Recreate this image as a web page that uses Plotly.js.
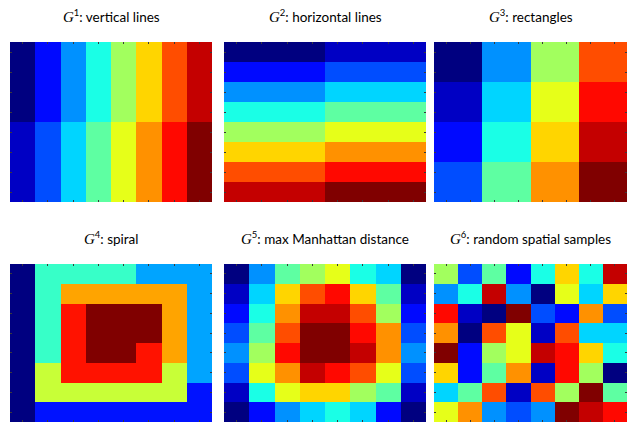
<!DOCTYPE html>
<html>
<head>
<meta charset="utf-8">
<script src="https://cdn.plot.ly/plotly-3.0.1.min.js"></script>
<style>
  html, body { margin: 0; padding: 0; background: #ffffff; }
  #chart { width: 627px; height: 422px; }
</style>
</head>
<body>
<div id="chart"></div>
<script>
// Panel titles
const titles = [
  "vertical lines",
  "horizontal lines",
  "rectangles",
  "spiral",
  "max Manhattan distance",
  "random spatial samples"
];

// 8x8 grids, first row drawn at the top
const g1 = [
  [1, 3, 5, 7, 9, 11, 13, 15],
  [1, 3, 5, 7, 9, 11, 13, 15],
  [1, 3, 5, 7, 9, 11, 13, 15],
  [1, 3, 5, 7, 9, 11, 13, 15],
  [2, 4, 6, 8, 10, 12, 14, 16],
  [2, 4, 6, 8, 10, 12, 14, 16],
  [2, 4, 6, 8, 10, 12, 14, 16],
  [2, 4, 6, 8, 10, 12, 14, 16]
];

const g2 = [
  [1, 1, 1, 1, 2, 2, 2, 2],
  [3, 3, 3, 3, 4, 4, 4, 4],
  [5, 5, 5, 5, 6, 6, 6, 6],
  [7, 7, 7, 7, 8, 8, 8, 8],
  [9, 9, 9, 9, 10, 10, 10, 10],
  [11, 11, 11, 11, 12, 12, 12, 12],
  [13, 13, 13, 13, 14, 14, 14, 14],
  [15, 15, 15, 15, 16, 16, 16, 16]
];

const g3 = [
  [1, 1, 5, 5, 9, 9, 13, 13],
  [1, 1, 5, 5, 9, 9, 13, 13],
  [2, 2, 6, 6, 10, 10, 14, 14],
  [2, 2, 6, 6, 10, 10, 14, 14],
  [3, 3, 7, 7, 11, 11, 15, 15],
  [3, 3, 7, 7, 11, 11, 15, 15],
  [4, 4, 8, 8, 12, 12, 16, 16],
  [4, 4, 8, 8, 12, 12, 16, 16]
];

const g4 = [
  [1, 4, 4, 4, 4, 3, 3, 3],
  [1, 4, 6, 6, 6, 6, 6, 3],
  [1, 4, 7, 8, 8, 8, 6, 3],
  [1, 4, 7, 8, 8, 8, 6, 3],
  [1, 4, 7, 8, 8, 7, 6, 3],
  [1, 5, 7, 7, 7, 7, 5, 3],
  [1, 5, 5, 5, 5, 5, 5, 2],
  [1, 2, 2, 2, 2, 2, 2, 2]
];

const g5 = [
  [1, 5, 8, 9, 10, 7, 6, 1],
  [2, 6, 11, 13, 14, 11, 8, 2],
  [3, 7, 12, 15, 15, 13, 9, 3],
  [4, 8, 13, 16, 16, 14, 12, 4],
  [5, 9, 14, 16, 16, 15, 12, 5],
  [4, 10, 12, 15, 14, 13, 10, 4],
  [2, 7, 10, 11, 11, 9, 8, 2],
  [1, 3, 5, 6, 7, 6, 3, 1]
];

const g6 = [
  [9, 4, 8, 3, 7, 11, 7, 15],
  [5, 7, 15, 5, 1, 10, 6, 11],
  [14, 2, 1, 16, 4, 3, 12, 4],
  [12, 1, 13, 10, 2, 13, 6, 6],
  [16, 3, 9, 10, 15, 14, 11, 7],
  [11, 3, 8, 12, 2, 14, 9, 1],
  [6, 8, 13, 2, 13, 9, 16, 8],
  [10, 12, 5, 4, 5, 16, 15, 14]
];

const grids = [g1, g2, g3, g4, g5, g6];
const ranges = [[1, 16], [1, 16], [1, 16], [1, 8], [1, 16], [1, 16]];

// MATLAB-style jet colormap
const jet = [
  [0.000, "#000080"],
  [0.125, "#0000ff"],
  [0.375, "#00ffff"],
  [0.625, "#ffff00"],
  [0.875, "#ff0000"],
  [1.000, "#800000"]
];

// Panel placement in pixels (left, right, top, bottom)
const W = 627, H = 422;
const cols = [[10, 212], [224, 426], [434, 627]];
const rows = [[42, 202], [264, 422]];

const data = [];
const layout = {
  width: W,
  height: H,
  margin: { l: 0, r: 0, t: 0, b: 0 },
  paper_bgcolor: "#ffffff",
  plot_bgcolor: "#ffffff",
  showlegend: false,
  annotations: []
};

grids.forEach((z, i) => {
  const r = Math.floor(i / 3), c = i % 3;
  const n = i + 1;
  const xa = n === 1 ? "x" : "x" + n;
  const ya = n === 1 ? "y" : "y" + n;
  data.push({
    type: "heatmap",
    z: z,
    xaxis: xa,
    yaxis: ya,
    colorscale: jet,
    zmin: ranges[i][0],
    zmax: ranges[i][1],
    showscale: false,
    zsmooth: false,
    hoverinfo: "skip"
  });
  const axCommon = {
    showgrid: false,
    zeroline: false,
    showline: false,
    showticklabels: false,
    ticks: "inside",
    ticklen: 2,
    tickwidth: 1,
    tickcolor: "#3a3a3a",
    mirror: "ticks",
    tickmode: "linear",
    tick0: 0,
    dtick: 1,
    fixedrange: true
  };
  layout[n === 1 ? "xaxis" : "xaxis" + n] = Object.assign({}, axCommon, {
    domain: [cols[c][0] / W, cols[c][1] / W],
    range: [-0.5, 7.5],
    anchor: ya
  });
  layout[n === 1 ? "yaxis" : "yaxis" + n] = Object.assign({}, axCommon, {
    domain: [1 - rows[r][1] / H, 1 - rows[r][0] / H],
    range: [7.5, -0.5],
    anchor: xa
  });
  layout.annotations.push({
    xref: "paper",
    yref: "paper",
    x: (cols[c][0] + cols[c][1]) / 2 / W,
    y: 1 - (rows[r][0] - 26) / H,
    xanchor: "center",
    yanchor: "middle",
    showarrow: false,
    text: "<span style=\"font-family:'Liberation Serif';font-size:15px\"><i>G</i></span><sup>" + n + "</sup>: " + titles[i],
    font: { family: "Lato, 'Open Sans', sans-serif", size: 13.5, color: "#000000" }
  });
});

Plotly.newPlot("chart", data, layout, { staticPlot: true, displayModeBar: false });
</script>
</body>
</html>
